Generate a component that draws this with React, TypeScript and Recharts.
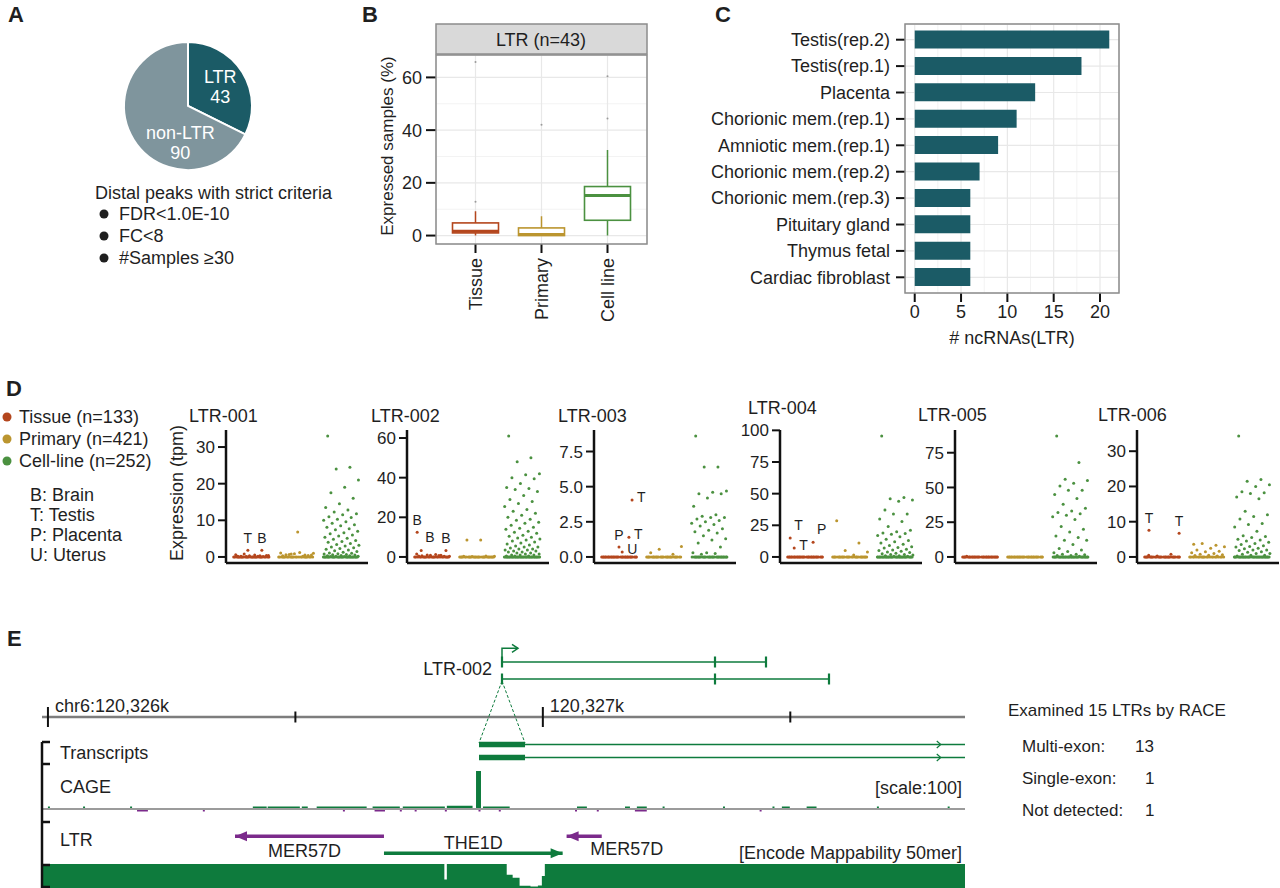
import React from 'react';
import {
  PieChart, Pie, Cell, ComposedChart, BarChart, Bar, ScatterChart, Scatter,
  LineChart, Line, AreaChart, Area, XAxis, YAxis, CartesianGrid, ReferenceLine,
} from 'recharts';

const FONT = '"Liberation Sans", Arial, Helvetica, sans-serif';
const INK = '#1f1f1f';
const AXIS = '#111';
const TEAL = '#1b5b66';
const PIE_GREY = '#7f959d';
const TISSUE = '#b4461d';
const PRIMARY = '#bb952f';
const CELL = '#4b9140';
const E_GREEN = '#0e7b3d';
const E_PURPLE = '#7b2a8b';
const FRAME = '#8c8c8c';

// ---------- A: distal peaks
const peakNames = ['LTR', 'non-LTR'];
const peakCounts = [43, 90];
const criteria = ['FDR<1.0E-10', 'FC<8', '#Samples \u226530'];

// ---------- B: expressed samples (%)
const sampleTypes = ['Tissue', 'Primary', 'Cell line'];
const boxMin = [0, 0, 0];
const boxQ1 = [1.0, 0.0, 5.8];
const boxMedian = [1.6, 0.4, 15.2];
const boxQ3 = [4.8, 2.9, 18.6];
const boxMax = [9.2, 7.3, 32.5];
const boxOutliers = [[12.8, 65.8], [42.0], [44.4, 60.4]];

// ---------- C: ncRNAs per library
const libraries = [
  'Testis(rep.2)', 'Testis(rep.1)', 'Placenta', 'Chorionic mem.(rep.1)', 'Amniotic mem.(rep.1)',
  'Chorionic mem.(rep.2)', 'Chorionic mem.(rep.3)', 'Pituitary gland', 'Thymus fetal', 'Cardiac fibroblast',
];
const ncrnaCounts = [21, 18, 13, 11, 9, 7, 6, 6, 6, 6];

// ---------- D: expression per LTR (tpm)
const ltrNames = ['LTR-001', 'LTR-002', 'LTR-003', 'LTR-004', 'LTR-005', 'LTR-006'];
const tissueExpr = [
  [0.2, 0.3, 0.1, 0.4, 0.5, 0.2, 0.1, 0.3, 0.6, 0.2, 0.8, 0.4],
  [0.5, 0.8, 1, 0.3, 1.2, 0.6, 0.4, 0.9, 1.5, 0.7],
  [],
  [],
  [0.5],
  [0.5, 0.8, 0.3],
];
const tissueZeros = [28, 24, 32, 32, 32, 28];
const primaryExpr = [
  [0.3, 0.5, 0.8, 1.0, 1.2, 0.6, 0.4, 0.9, 1.1, 0.2, 0.7, 0.5, 6.8],
  [0.3, 0.5, 0.2, 0.4, 8.6, 8.6],
  [0.3, 0.2, 0.55, 0.75],
  [28.5, 11, 5, 4, 1.5],
  [],
  [3.6, 3.3, 3.8, 2.9, 2.5, 2.0, 1.6, 1.5, 1.2, 1.0, 0.8, 0.6, 0.5, 0.4, 0.3],
];
const primaryZeros = [24, 28, 28, 28, 32, 22];
const cellExpr = [
  [33, 24.5, 24, 21, 19, 17.5, 16, 14.5, 13.5, 12.8, 12.3, 11.8, 11.5, 11, 10.8, 10.3, 10, 9.6, 9.2, 8.8,
    8.5, 8.1, 7.7, 7.4, 7, 6.6, 6.3, 6, 5.7, 5.4, 5.1, 4.8, 4.5, 4.2, 4, 3.7, 3.4, 3.2, 3, 2.7, 2.5, 2.3,
    2.1, 1.9, 1.7, 1.5, 1.3, 1.1, 1, 0.9, 0.8, 0.7, 0.6, 0.5, 0.4, 0.3, 0.3, 0.2, 0.2, 0.1, 0.1],
  [61, 50, 48, 42, 41.5, 40, 39.5, 37, 35, 34.5, 34, 33, 31, 29, 28, 27, 25.5, 24, 23, 22, 21, 20, 19,
    18.5, 17.5, 17, 16, 15, 14.5, 14, 13, 12.5, 12, 11, 10.5, 10, 9.5, 9, 8.5, 8, 7.5, 7, 6.5, 6, 5.5, 5,
    5, 4.5, 4, 4, 3.5, 3.5, 3, 3, 2.5, 2.5, 2, 2, 1.5, 1.5, 1, 1, 1, 0.5, 0.5, 0.5],
  [8.6, 6.4, 6.4, 4.7, 4.6, 4.5, 4.5, 4.2, 3.6, 3.0, 2.9, 2.8, 2.8, 2.7, 2.6, 2.5, 2.4, 2.3, 2.2, 2.0,
    1.9, 1.8, 1.7, 1.5, 1.3, 1.2, 1.0, 0.7, 0.3, 0.3, 0.25, 0.2],
  [95.5, 47, 46, 45, 44, 37, 34, 34, 30, 28, 24, 21, 20, 19, 18.5, 18, 17, 16, 14, 13, 12, 11, 10, 9, 8,
    7.5, 7, 6, 5.5, 5, 4.5, 4, 3.5, 3, 2.5, 2, 2, 1.5, 1, 1, 0.5, 0.5],
  [87, 68, 56, 55, 53, 51, 48, 48, 45, 42, 38, 35, 33, 32, 31, 30, 29, 27, 22, 20, 18, 15, 14, 12, 12, 9,
    6, 5, 4, 3, 2, 2, 1.5, 1, 1, 0.5],
  [34.3, 22, 21.5, 20.5, 20, 18.5, 18.2, 18, 17, 16.5, 13, 12, 11.5, 10.8, 9.5, 9.2, 8.5, 7.3, 6, 5.8,
    5.5, 5, 4.8, 4.5, 4.2, 3.8, 3.5, 3.2, 3, 2.8, 2.5, 2.3, 2, 2, 1.8, 1.5, 1.3, 1, 1, 0.8, 0.5, 0.5, 0.3],
];
const cellZeros = [30, 34, 30, 32, 32, 32];
// labelled tissue samples: [position on group axis, tpm, tissue letter, label side]
const tissueCalls: [number, number, string, string][][] = [
  [[0.93, 1.8, 'T', 'above'], [1.24, 1.8, 'B', 'above']],
  [[0.67, 12.5, 'B', 'above'], [0.76, 3.3, 'B', 'aboveRight'], [1.31, 3.3, 'B', 'above']],
  [[1.0, 0.7, 'P', 'above'], [1.07, 0.35, 'U', 'right'], [1.22, 1.4, 'T', 'right'], [1.29, 4.05, 'T', 'right']],
  [[0.67, 15, 'T', 'aboveRight'], [0.76, 7, 'T', 'right'], [1.18, 11.7, 'P', 'aboveRight']],
  [],
  [[0.71, 7.6, 'T', 'above'], [1.38, 6.7, 'T', 'above']],
];
const dTicks = [[0, 10, 20, 30], [0, 20, 40, 60], [0, 2.5, 5, 7.5], [0, 25, 50, 75, 100], [0, 25, 50, 75], [0, 10, 20, 30]];
const legendGroups = ['Tissue (n=133)', 'Primary (n=421)', 'Cell-line (n=252)'];
const tissueKey = ['B: Brain', 'T: Testis', 'P: Placenta', 'U: Uterus'];

// ---------- E: genome browser (bp relative to chr6:120,326,000)
const viewStart = -12;
const viewEnd = 1853;
const rulerTicks = [0, 500, 1000, 1500];
const rulerLabels = ['chr6:120,326k', '', '120,327k', ''];
const transcriptExon = [871, 964];
const transcriptChevron = 1802;
const cagePlus: [number, number, number][] = [
  [0, 4, 6], [71, 75, 6], [166, 170, 6], [414, 442, 6], [444, 509, 6], [513, 525, 6], [543, 644, 6],
  [656, 711, 6], [717, 802, 6], [806, 858, 8], [865, 875, 93], [879, 933, 6], [1069, 1089, 6],
  [1166, 1176, 6], [1190, 1210, 6], [1242, 1246, 6], [1364, 1368, 6], [1464, 1468, 6], [1483, 1499, 6],
  [1533, 1553, 6], [1675, 1679, 6], [1818, 1822, 6],
];
const cageMinus: [number, number, number][] = [
  [180, 202, -6], [313, 317, -6], [596, 600, -6], [660, 681, -6], [711, 715, -6], [741, 745, -6],
  [802, 806, -6], [870, 874, -6], [911, 915, -6], [1065, 1069, -6], [1109, 1113, -6], [1186, 1210, -6],
  [1438, 1442, -6],
];
const ltrFeatures = [
  { name: 'MER57D', start: 378, end: 679, strand: '-' },
  { name: 'THE1D', start: 679, end: 1040, strand: '+' },
  { name: 'MER57D', start: 1048, end: 1119, strand: '-' },
];
const mappability: [number, number][] = [
  [-12, 1], [801, 0.35], [806, 1], [927, 0.55], [939, 0.43], [953, 0.09], [975, 0.06], [990, 0.1],
  [998, 0.5], [1004, 1], [1853, 1],
];
// LTR-002 isoforms, kb downstream of the TSS
const isoformEdges = [[0, 10.65, 13.2], [0, 10.65, 16.35]];
const raceLabels = ['Multi-exon:', 'Single-exon:', 'Not detected:'];
const raceCounts = [13, 1, 1];

// ---------- layout
const dAxisX = [226, 407, 594, 780, 955, 1137];
const dTitleX = [189, 371, 558, 748, 918, 1098];
const dTitleY = [416, 416, 416, 408, 415, 415];
const featureRows = [1.4, 0.4, 1.4];
const featureLabelDx = [-5, 0, 6];
const featureLabelDy = [15, -10, 13];
const featureLabelAnchor = ['middle', 'middle', 'start'];

const jitter = (i: number) => (((i * 0.618034 + 0.13) % 1) - 0.5) * 0.8;
const spread = (values: number[], zeros: number, group: number) =>
  [...values, ...Array.from({ length: zeros }, () => 0)].map((v, i) => ({ x: group + jitter(i), y: v }));

function PanelA() {
  const data = peakNames.map((name, i) => ({ name, value: peakCounts[i] }));
  const spots = [{ a: 32, r: 38 }, { a: -102, r: 37 }];
  const label = (p: any) => {
    const s = spots[p.index];
    const rad = (s.a * Math.PI) / 180;
    const x = p.cx + s.r * Math.cos(rad);
    const y = p.cy - s.r * Math.sin(rad);
    return (
      <text x={x} y={y} fill="#fff" fontSize={18} textAnchor="middle">
        <tspan x={x} dy={-3}>{data[p.index].name}</tspan>
        <tspan x={x} dy={20}>{data[p.index].value}</tspan>
      </text>
    );
  };
  return (
    <div style={{ position: 'absolute', left: 0, top: 0 }}>
      <PieChart width={360} height={180}>
        <Pie data={data} dataKey="value" nameKey="name" cx={183} cy={101} outerRadius={64}
          startAngle={90} endAngle={-270} stroke="#fff" strokeWidth={2}
          label={label} labelLine={false} isAnimationActive={false}>
          {data.map((d, i) => <Cell key={d.name} fill={i === 0 ? TEAL : PIE_GREY} />)}
        </Pie>
      </PieChart>
    </div>
  );
}

const renderBox = (p: any) => {
  const d = p.payload;
  const top = Math.min(p.y, p.y + p.height);
  const h = Math.abs(p.height);
  const ppu = h / (d.q3 - d.q1);
  const yv = (v: number) => top + h - (v - d.q1) * ppu;
  const cx = p.x + p.width / 2;
  return (
    <g>
      <line x1={cx} x2={cx} y1={yv(d.q3)} y2={yv(d.hi)} stroke={d.color} strokeWidth={1.5} />
      <line x1={cx} x2={cx} y1={yv(d.q1)} y2={yv(d.lo)} stroke={d.color} strokeWidth={1.5} />
      <rect x={p.x} y={top} width={p.width} height={h} fill="#fff" stroke={d.color} strokeWidth={1.6} />
      <line x1={p.x} x2={p.x + p.width} y1={yv(d.med)} y2={yv(d.med)} stroke={d.color} strokeWidth={3} />
      {d.out.map((v: number, i: number) => <circle key={i} cx={cx} cy={yv(v)} r={1} fill="#9a9a9a" />)}
    </g>
  );
};

const RotatedTick = (p: any) => (
  <text x={p.x} y={p.y} transform={`rotate(-90 ${p.x} ${p.y})`} textAnchor="end"
    dominantBaseline="central" fontSize={18} fill={INK}>{p.payload.value}</text>
);

function PanelB() {
  const colors = [TISSUE, PRIMARY, CELL];
  const data = sampleTypes.map((type, i) => ({
    type, box: [boxQ1[i], boxQ3[i]], q1: boxQ1[i], q3: boxQ3[i], med: boxMedian[i],
    lo: boxMin[i], hi: boxMax[i], out: boxOutliers[i], color: colors[i],
  }));
  return (
    <div style={{ position: 'absolute', left: 360, top: 0 }}>
      <ComposedChart width={300} height={330} data={data} margin={{ top: 55, right: 13, bottom: 0, left: 0 }}>
        <CartesianGrid stroke="#f3f3f3" vertical={false} horizontalValues={[10, 30, 50]} />
        <CartesianGrid stroke="#e8e8e8" strokeWidth={1.2} />
        <XAxis dataKey="type" height={86} padding={{ left: 6.5, right: 6.5 }} axisLine={false}
          tickSize={9} tickMargin={5} tickLine={{ stroke: AXIS, strokeWidth: 2 }} tick={<RotatedTick />} interval={0} />
        <YAxis width={76} domain={[-3.2, 68.5]} ticks={[0, 20, 40, 60]} axisLine={false} allowDataOverflow interval={0}
          tickSize={10} tickMargin={4} tickLine={{ stroke: AXIS, strokeWidth: 2 }} tick={{ fontSize: 18, fill: INK }} />
        <Bar dataKey="box" barSize={46} shape={renderBox} isAnimationActive={false} />
      </ComposedChart>
    </div>
  );
}

function PanelC() {
  const data = libraries.map((lib, i) => ({ lib, count: ncrnaCounts[i] }));
  return (
    <div style={{ position: 'absolute', left: 660, top: 0 }}>
      <BarChart width={470} height={360} layout="vertical" data={data} margin={{ top: 24, right: 11, bottom: 0, left: 0 }}>
        <CartesianGrid stroke="#f3f3f3" horizontal={false} verticalValues={[2.5, 7.5, 12.5, 17.5]} />
        <CartesianGrid stroke="#e8e8e8" strokeWidth={1.2} />
        <XAxis type="number" domain={[-1.05, 22.05]} ticks={[0, 5, 10, 15, 20]} height={67} axisLine={false}
          allowDataOverflow interval={0} tickSize={9} tickMargin={3} tickLine={{ stroke: AXIS, strokeWidth: 2 }}
          tick={{ fontSize: 18, fill: INK }} />
        <YAxis type="category" dataKey="lib" width={245} padding={{ top: 2.5, bottom: 2.5 }} axisLine={false}
          interval={0} tickSize={9} tickMargin={6} tickLine={{ stroke: AXIS, strokeWidth: 2 }}
          tick={{ fontSize: 18, fill: INK }} />
        <Bar dataKey="count" fill={TEAL} barSize={18} isAnimationActive={false} />
      </BarChart>
    </div>
  );
}

const dotShape = (color: string) => (p: any) => <circle cx={p.cx} cy={p.cy} r={1.5} fill={color} />;

const callShape = (p: any) => {
  const side = p.payload.side;
  let tx = p.cx, ty = p.cy - 12, anchor = 'middle';
  if (side === 'right') { tx = p.cx + 5; ty = p.cy - 3; anchor = 'start'; }
  if (side === 'aboveRight') { tx = p.cx + 4; ty = p.cy - 13; anchor = 'start'; }
  return (
    <g>
      <circle cx={p.cx} cy={p.cy} r={1.5} fill={TISSUE} />
      <text x={tx} y={ty} fontSize={14} fill={INK} textAnchor={anchor} dominantBaseline="central">{p.payload.letter}</text>
    </g>
  );
};

function ExpressionPanel({ idx }: { idx: number }) {
  const calls = tissueCalls[idx].map(([x, y, letter, side]) => ({ x, y, letter, side }));
  const top = Math.max(...tissueExpr[idx], ...primaryExpr[idx], ...cellExpr[idx], ...calls.map((c) => c.y));
  const groups = [
    { pts: spread(tissueExpr[idx], tissueZeros[idx], 1), color: TISSUE },
    { pts: spread(primaryExpr[idx], primaryZeros[idx], 2), color: PRIMARY },
    { pts: spread(cellExpr[idx], cellZeros[idx], 3), color: CELL },
  ];
  const fmt = (v: number) => (idx === 2 ? v.toFixed(1) : String(v));
  return (
    <div style={{ position: 'absolute', left: dAxisX[idx] - 64, top: 420 }}>
      <ScatterChart width={64 + 142} height={148} margin={{ top: 10, right: 0, bottom: 0, left: 0 }}>
        <XAxis type="number" dataKey="x" domain={[0.444, 3.6]} height={5} tick={false} tickLine={false}
          allowDataOverflow axisLine={{ stroke: AXIS, strokeWidth: 2.5 }} />
        <YAxis type="number" dataKey="y" width={64} domain={[-0.05 * top, 1.05 * top]} ticks={dTicks[idx]}
          interval={0} tickFormatter={fmt} allowDataOverflow axisLine={{ stroke: AXIS, strokeWidth: 2.5 }}
          tickSize={8} tickMargin={3} tickLine={{ stroke: AXIS, strokeWidth: 2 }} tick={{ fontSize: 17, fill: INK }} />
        {groups.map((g, i) => (
          <Scatter key={i} data={g.pts} shape={dotShape(g.color)} isAnimationActive={false} />
        ))}
        <Scatter data={calls} shape={callShape} isAnimationActive={false} />
      </ScatterChart>
    </div>
  );
}

const RulerTick = (p: any) => {
  const i = rulerTicks.indexOf(p.payload.value);
  const major = rulerLabels[i] !== '';
  const h = major ? 10 : 5.5;
  return (
    <g>
      <line x1={p.x} x2={p.x} y1={p.y - h} y2={p.y + h} stroke={AXIS} strokeWidth={2} />
      {major && <text x={p.x + 7} y={p.y - 11} fontSize={18} fill={INK} dominantBaseline="central">{rulerLabels[i]}</text>}
    </g>
  );
};

function PanelE() {
  const dom: [number, number] = [viewStart, viewEnd];
  const edges = Array.from(new Set([viewStart, viewEnd,
    ...cagePlus.flatMap((b) => [b[0], b[1]]), ...cageMinus.flatMap((b) => [b[0], b[1]])])).sort((a, b) => a - b);
  const valueAt = (bins: [number, number, number][], x: number) => {
    const b = bins.find(([s, e]) => x >= s && x < e);
    return b ? b[2] : 0;
  };
  const cageRows = edges.map((x) => ({ x, plus: valueAt(cagePlus, x), minus: valueAt(cageMinus, x) }));
  const mapRows = mappability.map(([x, v]) => ({ x, v }));

  const tickDot = (p: any) => (
    <line key={p.index} x1={p.cx} x2={p.cx} y1={p.cy - 5.5} y2={p.cy + 5.5} stroke={E_GREEN} strokeWidth={2.2} />
  );
  const arrowDot = (p: any) => p.index === 2
    ? <polyline key={p.index} points={`${p.cx - 6},${p.cy - 4} ${p.cx},${p.cy} ${p.cx - 6},${p.cy + 4}`} fill="none" stroke={E_GREEN} strokeWidth={1.5} />
    : <g key={p.index} />;
  const chevronDot = (p: any) => p.payload.chev
    ? <polyline key={p.index} points={`${p.cx - 3},${p.cy - 3.5} ${p.cx + 1},${p.cy} ${p.cx - 3},${p.cy + 3.5}`} fill="none" stroke={E_GREEN} strokeWidth={1.2} />
    : <g key={p.index} />;
  const featureDot = (fi: number, color: string) => (p: any) => {
    const f = ltrFeatures[fi];
    if (p.payload.role === 'head') {
      const dir = f.strand === '+' ? 1 : -1;
      return <polygon key={p.index} points={`${p.cx},${p.cy} ${p.cx - dir * 12},${p.cy - 5} ${p.cx - dir * 12},${p.cy + 5}`} fill={color} />;
    }
    if (p.payload.role === 'mid') {
      return (
        <text key={p.index} x={p.cx + featureLabelDx[fi]} y={p.cy + featureLabelDy[fi]} fontSize={18} fill={INK}
          textAnchor={featureLabelAnchor[fi]} dominantBaseline="central">{f.name}</text>
      );
    }
    return <g key={p.index} />;
  };

  return (
    <>
      {/* inset: LTR-002 isoforms */}
      <div style={{ position: 'absolute', left: 492, top: 640 }}>
        <LineChart width={350} height={50} margin={{ top: 0, right: 0, bottom: 0, left: 0 }}>
          <XAxis hide type="number" dataKey="x" domain={[-0.5, 17]} />
          <YAxis hide domain={[0, 3]} />
          {isoformEdges.map((edgesKb, r) => (
            <Line key={r} data={edgesKb.map((x) => ({ x, y: r === 0 ? 1.68 : 0.66 }))} dataKey="y"
              stroke={E_GREEN} strokeWidth={1.5} dot={tickDot} isAnimationActive={false} />
          ))}
          <Line data={[{ x: 0, y: 1.68 }, { x: 0, y: 2.5 }, { x: 0.8, y: 2.5 }]} dataKey="y" stroke={E_GREEN}
            strokeWidth={1.5} dot={arrowDot} isAnimationActive={false} />
        </LineChart>
      </div>
      {/* ruler */}
      <div style={{ position: 'absolute', left: 42, top: 692 }}>
        <LineChart width={923} height={50} data={rulerTicks.map((t) => ({ x: t }))} margin={{ top: 0, right: 0, bottom: 0, left: 0 }}>
          <XAxis type="number" dataKey="x" domain={dom} ticks={rulerTicks} height={25} interval={0}
            tickSize={0} tickMargin={0} axisLine={{ stroke: '#7d7d7d', strokeWidth: 2.5 }} tick={<RulerTick />} />
          <YAxis hide domain={[0, 1]} />
        </LineChart>
      </div>
      {/* transcripts */}
      <div style={{ position: 'absolute', left: 42, top: 738 }}>
        <LineChart width={923} height={26} margin={{ top: 0, right: 0, bottom: 0, left: 0 }}>
          <XAxis hide type="number" dataKey="x" domain={dom} allowDataOverflow />
          <YAxis hide domain={[0, 2]} />
          {[1.5, 0.5].map((row) => (
            <Line key={`e${row}`} data={transcriptExon.map((x) => ({ x, y: row }))} dataKey="y" stroke={E_GREEN}
              strokeWidth={5.5} dot={false} isAnimationActive={false} />
          ))}
          {[1.5, 0.5].map((row) => (
            <Line key={`i${row}`} data={[{ x: transcriptExon[1], y: row }, { x: transcriptChevron, y: row, chev: 1 }, { x: viewEnd, y: row }]}
              dataKey="y" stroke={E_GREEN} strokeWidth={1.5} dot={chevronDot} isAnimationActive={false} />
          ))}
        </LineChart>
      </div>
      {/* CAGE */}
      <div style={{ position: 'absolute', left: 42, top: 768 }}>
        <AreaChart width={923} height={46} data={cageRows} margin={{ top: 0, right: 0, bottom: 0, left: 0 }}>
          <XAxis hide type="number" dataKey="x" domain={dom} />
          <YAxis hide domain={[-12, 100]} allowDataOverflow />
          <ReferenceLine y={0} stroke="#9b9b9b" strokeWidth={2} />
          <Area type="stepAfter" dataKey="plus" baseValue={0} fill={E_GREEN} fillOpacity={1} stroke="none" isAnimationActive={false} />
          <Area type="stepAfter" dataKey="minus" baseValue={0} fill={E_PURPLE} fillOpacity={1} stroke="none" isAnimationActive={false} />
        </AreaChart>
      </div>
      {/* LTR annotation */}
      <div style={{ position: 'absolute', left: 42, top: 826 }}>
        <LineChart width={923} height={34} margin={{ top: 0, right: 0, bottom: 0, left: 0 }}>
          <XAxis hide type="number" dataKey="x" domain={dom} />
          <YAxis hide domain={[0, 2]} />
          {ltrFeatures.map((f, fi) => {
            const color = f.strand === '+' ? E_GREEN : E_PURPLE;
            const row = featureRows[fi];
            const pts = [
              { x: f.start, y: row, role: f.strand === '-' ? 'head' : 'tail' },
              { x: (f.start + f.end) / 2, y: row, role: 'mid' },
              { x: f.end, y: row, role: f.strand === '+' ? 'head' : 'tail' },
            ];
            return <Line key={fi} data={pts} dataKey="y" stroke={color} strokeWidth={3.5} dot={featureDot(fi, color)} isAnimationActive={false} />;
          })}
        </LineChart>
      </div>
      {/* mappability */}
      <div style={{ position: 'absolute', left: 42, top: 864 }}>
        <AreaChart width={923} height={24} data={mapRows} margin={{ top: 0, right: 0, bottom: 0, left: 0 }}>
          <XAxis hide type="number" dataKey="x" domain={dom} />
          <YAxis hide domain={[0, 1]} />
          <Area type="stepAfter" dataKey="v" baseValue={0} fill={E_GREEN} fillOpacity={1} stroke="none" isAnimationActive={false} />
        </AreaChart>
      </div>
    </>
  );
}

const Txt = ({ x, y, children, size = 18, anchor = 'start', weight = 400, fill = INK, rotate }: any) => (
  <text x={x} y={y} fontSize={size} textAnchor={anchor} fontWeight={weight} fill={fill} dominantBaseline="central"
    transform={rotate ? `rotate(${rotate} ${x} ${y})` : undefined}>{children}</text>
);

function Overlay() {
  const legendColors = [TISSUE, PRIMARY, CELL];
  return (
    <svg width={1280} height={888} style={{ position: 'absolute', left: 0, top: 0, pointerEvents: 'none' }}>
      {/* panel letters */}
      <Txt x={8} y={14} size={22} weight={700}>A</Txt>
      <Txt x={362} y={14} size={22} weight={700}>B</Txt>
      <Txt x={715} y={14} size={22} weight={700}>C</Txt>
      <Txt x={6} y={388} size={22} weight={700}>D</Txt>
      <Txt x={7} y={638} size={22} weight={700}>E</Txt>

      {/* A */}
      <Txt x={95} y={193}>Distal peaks with strict criteria</Txt>
      {criteria.map((c, i) => (
        <g key={c}>
          <circle cx={104} cy={214 + i * 22} r={4.5} fill={INK} />
          <Txt x={119} y={214 + i * 22}>{c}</Txt>
        </g>
      ))}

      {/* B */}
      <rect x={436} y={24} width={211} height={30} fill="#d9d9d9" stroke={FRAME} strokeWidth={1.5} />
      <Txt x={541} y={40} anchor="middle">LTR (n=43)</Txt>
      <rect x={436} y={55} width={211} height={189} fill="none" stroke={FRAME} strokeWidth={1.5} />
      <Txt x={387} y={146} anchor="middle" rotate={-90} size={17}>Expressed samples (%)</Txt>

      {/* C */}
      <rect x={905} y={24} width={214} height={269} fill="none" stroke={FRAME} strokeWidth={1.5} />
      <Txt x={1012} y={338} anchor="middle">{'# ncRNAs(LTR)'}</Txt>

      {/* D */}
      {legendGroups.map((g, i) => (
        <g key={g}>
          <circle cx={7} cy={417 + i * 22} r={4.5} fill={legendColors[i]} />
          <Txt x={19} y={417 + i * 22}>{g}</Txt>
        </g>
      ))}
      {tissueKey.map((k, i) => <Txt key={k} x={30} y={495 + i * 20}>{k}</Txt>)}
      {ltrNames.map((n, i) => <Txt key={n} x={dTitleX[i]} y={dTitleY[i]}>{n}</Txt>)}
      <Txt x={177} y={493} anchor="middle" rotate={-90}>Expression (tpm)</Txt>

      {/* E */}
      <Txt x={492} y={669} anchor="end">LTR-002</Txt>
      <line x1={502} y1={681} x2={479} y2={743} stroke={E_GREEN} strokeWidth={1} strokeDasharray="3 2" />
      <line x1={502} y1={681} x2={525} y2={743} stroke={E_GREEN} strokeWidth={1} strokeDasharray="3 2" />
      <line x1={42} y1={742} x2={42} y2={888} stroke={AXIS} strokeWidth={2.5} />
      {[742, 764, 822, 865, 887].map((y) => <line key={y} x1={42} y1={y} x2={50} y2={y} stroke={AXIS} strokeWidth={2.5} />)}
      <Txt x={60} y={753}>Transcripts</Txt>
      <Txt x={60} y={787}>CAGE</Txt>
      <Txt x={60} y={840}>LTR</Txt>
      <Txt x={962} y={788} anchor="end">[scale:100]</Txt>
      <Txt x={962} y={853} anchor="end">[Encode Mappability 50mer]</Txt>
      <Txt x={1008} y={710} size={17}>Examined 15 LTRs by RACE</Txt>
      {raceLabels.map((l, i) => (
        <g key={l}>
          <Txt x={1022} y={746 + i * 32} size={17}>{l}</Txt>
          <Txt x={i === 0 ? 1135 : 1145} y={746 + i * 32} size={17}>{raceCounts[i]}</Txt>
        </g>
      ))}
    </svg>
  );
}

export default function App() {
  return (
    <div style={{ position: 'absolute', left: 0, top: 0, width: 1280, height: 888, background: '#fff', fontFamily: FONT, color: INK, overflow: 'hidden' }}>
      <PanelA />
      <PanelB />
      <PanelC />
      {ltrNames.map((n, i) => <ExpressionPanel key={n} idx={i} />)}
      <PanelE />
      <Overlay />
    </div>
  );
}
